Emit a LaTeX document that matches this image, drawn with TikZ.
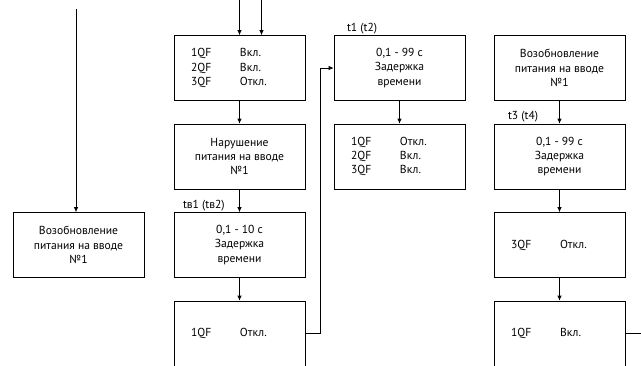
\documentclass[tikz,border=0pt]{standalone}
\usepackage{fontspec}
\setmainfont{PT Sans}
\usetikzlibrary{arrows.meta,calc}
\newcommand{\qfrow}[2]{\makebox[49pt][l]{#1}#2}

\begin{document}
\begin{tikzpicture}[x=1pt, y=-1pt, line width=0.7pt, >={Latex[length=5pt,width=4.5pt]},
    box/.style={draw, minimum width=131pt, minimum height=65pt, inner sep=0pt,
      align=center, font=\fontsize{11.6}{14.4}\selectfont},
    list/.style={box, text width=97pt, inner xsep=17pt, align=left},
    lbl/.style={inner sep=1pt, anchor=south west, font=\fontsize{11.6}{13}\selectfont}]
    \useasboundingbox (0,0) rectangle (641,365);
    \coordinate (in0) at (76,9);
    \coordinate (in1) at (239.5,0);
    \coordinate (in2) at (261.5,0);
    \coordinate (out) at (641,333.5);

    % left column
    \node[box] (rest0) at (78.5,245) {Возобновление\\питания на вводе\\№1};

    % second column
    \node[list] (s1) at (239.5,68) {\qfrow{1QF}{Вкл.}\\\qfrow{2QF}{Вкл.}\\\qfrow{3QF}{Откл.}};
    \node[box] (fail) at (239.5,156.5) {Нарушение\\питания на вводе\\№1};
    \node[box] (tv) at (239.5,245) {0,1 - 10 с\\Задержка\\времени};
    \node[list] (off1) at (239.5,333.5) {\qfrow{1QF}{Откл.}};
    \node[lbl] (ltv) at ([xshift=8pt]tv.north west) {tв1 (tв2)};

    % third column
    \node[box] (t1) at (399.5,68) {0,1 - 99 с\\Задержка\\времени};
    \node[list] (s2) at (399.5,156.5) {\qfrow{1QF}{Откл.}\\\qfrow{2QF}{Вкл.}\\\qfrow{3QF}{Вкл.}};
    \node[lbl] (lt1) at ([xshift=12pt]t1.north west) {t1 (t2)};

    % fourth column
    \node[box] (rest1) at (559.5,68) {Возобновление\\питания на вводе\\№1};
    \node[box] (t3) at (559.5,156.5) {0,1 - 99 с\\Задержка\\времени};
    \node[list] (off3) at (559.5,245) {\qfrow{3QF}{Откл.}};
    \node[list] (on1) at (559.5,333.5) {\qfrow{1QF}{Вкл.}};
    \node[lbl] (lt3) at ([xshift=13pt]t3.north west) {t3 (t4)};

    \draw[->] (in0) -- (in0 |- rest0.north);
    \draw[->] (in1) -- (in1 |- s1.north);
    \draw[->] (in2) -- (in2 |- s1.north);
    \draw[->] (s1) -- (fail);
    \draw[->] (fail) -- (tv);
    \draw[->] (tv) -- (off1);
    \draw[->] (off1.east) -- ++(15,0) |- (t1.west);
    \draw[->] (t1) -- (s2);
    \draw[->] (rest1) -- (t3);
    \draw[->] (t3) -- (off3);
    \draw[->] (off3) -- (on1);
    \draw (on1.east) -- (out);
\end{tikzpicture}
\end{document}
